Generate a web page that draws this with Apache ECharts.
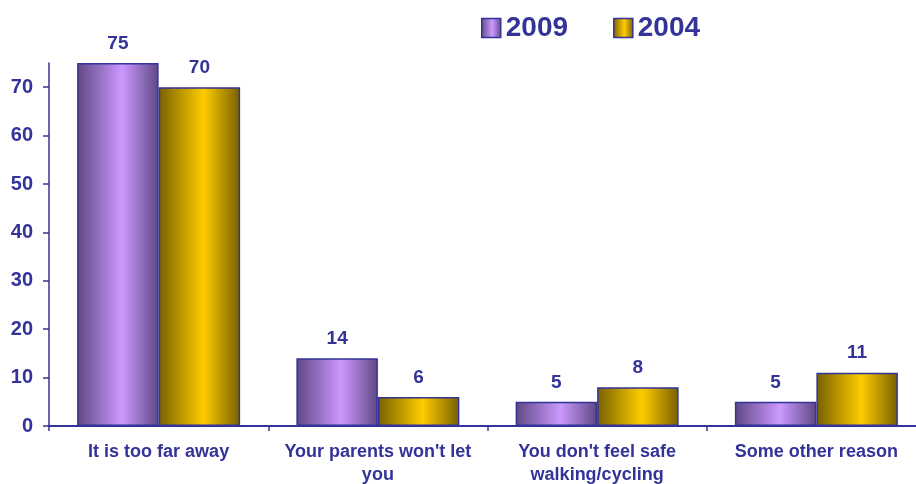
<!DOCTYPE html>
<html>
<head>
<meta charset="utf-8">
<script src="https://cdn.jsdelivr.net/npm/echarts@6/dist/echarts.min.js"></script>
<style>
  html, body { margin: 0; padding: 0; background: #ffffff; overflow: hidden; }
  #chart { width: 916px; height: 484px; }
</style>
</head>
<body>
<div id="chart"></div>
<script>
// Reasons for not walking or cycling to school
const categories = [
  'It is too far away',
  "Your parents won't let\nyou",
  "You don't feel safe\nwalking/cycling",
  'Some other reason'
];
const values2009 = [75, 14, 5, 5];
const values2004 = [70, 6, 8, 11];
const yTicks = [0, 10, 20, 30, 40, 50, 60, 70];

const ink = '#333399';
const font = '"Liberation Sans", Arial, sans-serif';

function barGradient(dark, light) {
  return new echarts.graphic.LinearGradient(0, 0, 1, 0, [
    { offset: 0, color: dark },
    { offset: 0.55, color: light },
    { offset: 1, color: dark }
  ]);
}

const valueLabel = {
  show: true,
  position: 'top',
  distance: 10,
  color: ink,
  fontFamily: font,
  fontWeight: 'bold',
  fontSize: 19
};

const chart = echarts.init(document.getElementById('chart'), null, { renderer: 'canvas' });
chart.setOption({
  animation: false,
  backgroundColor: '#ffffff',
  legend: {
    left: 481,
    top: 14,
    padding: 0,
    icon: 'rect',
    itemWidth: 19,
    itemHeight: 19,
    itemGap: 45,
    itemStyle: { borderColor: ink, borderWidth: 1.5 },
    textStyle: { color: ink, fontFamily: font, fontWeight: 'bold', fontSize: 28 },
    data: ['2009', '2004']
  },
  // the plot runs slightly past the right edge of the canvas
  grid: { left: 49, top: 63, width: 877, height: 363, containLabel: false, outerBoundsMode: 'none' },
  xAxis: {
    type: 'category',
    data: categories,
    axisLine: { lineStyle: { color: ink, width: 2 } },
    axisTick: { show: true, length: 5, alignWithLabel: false, lineStyle: { color: ink, width: 1.5 } },
    axisLabel: {
      color: ink, fontFamily: font, fontWeight: 'bold', fontSize: 18,
      lineHeight: 23, margin: 15, interval: 0
    }
  },
  yAxis: {
    type: 'value',
    min: 0,
    max: 75,
    splitLine: { show: false },
    axisLine: { show: true, lineStyle: { color: ink, width: 1.5 } },
    axisTick: { show: true, length: 6, customValues: yTicks, lineStyle: { color: ink, width: 1.5 } },
    axisLabel: {
      customValues: yTicks,
      color: ink, fontFamily: font, fontWeight: 'bold', fontSize: 20, margin: 16
    }
  },
  series: [
    {
      name: '2009',
      type: 'bar',
      data: values2009,
      barWidth: 81.5,
      barGap: '0%',
      itemStyle: { color: barGradient('#5e4884', '#cc99ff'), borderColor: ink, borderWidth: 1.5 },
      label: valueLabel
    },
    {
      name: '2004',
      type: 'bar',
      data: values2004,
      barWidth: 81.5,
      barGap: '0%',
      itemStyle: { color: barGradient('#776000', '#ffcc00'), borderColor: ink, borderWidth: 1.5 },
      label: valueLabel
    }
  ]
});
</script>
</body>
</html>
